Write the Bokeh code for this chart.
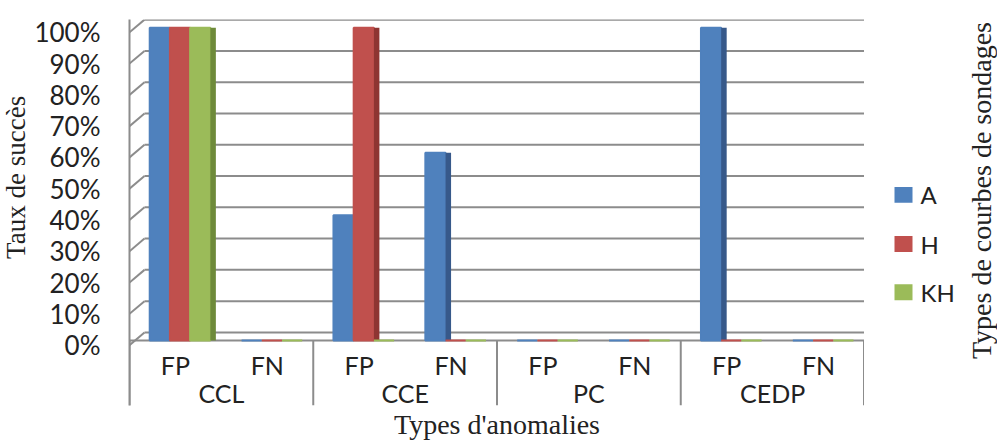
from bokeh.plotting import figure
from bokeh.layouts import row
from bokeh.models import ColumnDataSource, FactorRange, Range1d, FixedTicker, Title, Span
from bokeh.transform import dodge
from bokeh.core.properties import value
from bokeh.embed import file_html
from bokeh.resources import INLINE

groups = ["CCL", "CCE", "PC", "CEDP"]
subs = ["FP", "FN"]
series = ["A", "H", "KH"]
vals_A = [100, 0, 40, 60, 0, 0, 100, 0]
vals_H = [100, 0, 100, 0, 0, 0, 0, 0]
vals_KH = [100, 0, 0, 0, 0, 0, 0, 0]
y_ticks = [0, 10, 20, 30, 40, 50, 60, 70, 80, 90, 100]

colors = ["#4F81BD", "#C0504D", "#9BBB59"]
side_colors = ["#37598A", "#8E3532", "#6E8A3A"]
grey = "#8c8c8c"
txt = "#222222"

TOTAL_H = 439
Y_START, Y_END = -20.8, 102.6
FRONT, BACK, DEPTH = -1.5, 2.56, 0.163   # 3-D wall offsets (perspective)

factors = [(g, s) for g in groups for s in subs]
src = ColumnDataSource(dict(x=factors, sub=[f[1] for f in factors], A=vals_A, H=vals_H, KH=vals_KH))
gsrc = ColumnDataSource(dict(x=[(g, subs[0]) for g in groups], name=groups))
esrc = ColumnDataSource(dict(x=[(groups[-1], subs[-1])]))
first, last = factors[0], factors[-1]
wsrc = ColumnDataSource(dict(xl=[first] * len(y_ticks), xr=[last] * len(y_ticks),
                             yf=[t + FRONT for t in y_ticks], yb=[t + BACK for t in y_ticks]))

# ---------------- main plot ----------------
p = figure(x_range=FactorRange(*factors, range_padding=0, group_padding=0),
           y_range=Range1d(Y_START, Y_END),
           frame_width=735, frame_height=386, output_backend="svg", toolbar_location=None,
           min_border_left=97, min_border_right=0, min_border_top=19, min_border_bottom=34)
p.outline_line_color = None
p.background_fill_color = "white"

# back wall gridlines and left-wall diagonals
p.segment(x0=dodge("xl", -0.5 + DEPTH, range=p.x_range), x1=dodge("xr", 0.5, range=p.x_range),
          y0="yb", y1="yb", source=wsrc, line_color=grey, line_width=2)
p.segment(x0=dodge("xl", -0.5, range=p.x_range), x1=dodge("xl", -0.5 + DEPTH, range=p.x_range),
          y0="yf", y1="yb", source=wsrc, line_color=grey, line_width=2)
p.add_layout(Span(location=0, dimension="width", line_color=grey, line_width=2, level="underlay"))

offsets = [-0.17, 0.05, 0.27]
bw = 0.22
sw = 0.06
for name, off, c, sc in zip(series, offsets, colors, side_colors):
    p.vbar(x=dodge("x", off, range=p.x_range), top=name, width=bw, source=src,
           fill_color=c, line_color=c, line_width=2)
    p.vbar(x=dodge("x", off + bw / 2 + sw / 2, range=p.x_range), top=name, width=sw, source=src,
           fill_color=sc, line_color=None)

# category separators and labels below the floor line
p.segment(x0=dodge("x", -0.5, range=p.x_range), x1=dodge("x", -0.5, range=p.x_range),
          y0=0, y1=Y_START, source=gsrc, line_color=grey, line_width=2)
p.segment(x0=dodge("x", 0.5, range=p.x_range), x1=dodge("x", 0.5, range=p.x_range),
          y0=0, y1=Y_START, source=esrc, line_color=grey, line_width=3)
p.text(x="x", y=-8.0, text="sub", source=src, text_align="center", text_baseline="middle",
       text_font=value("Lato"), text_font_size="25px", text_color=txt)
p.text(x=dodge("x", 0.5, range=p.x_range), y=-16.9, text="name", source=gsrc,
       text_align="center", text_baseline="middle",
       text_font=value("Lato"), text_font_size="25px", text_color=txt)

yax = p.yaxis[0]
yax.ticker = FixedTicker(ticks=[t + FRONT for t in y_ticks])
yax.major_label_overrides = {t + FRONT: f"{t}%" for t in y_ticks}
yax.major_label_text_font = "Lato"
yax.major_label_text_font_size = "26px"
yax.major_label_text_color = txt
yax.major_label_standoff = 23
yax.major_tick_line_color = None
yax.minor_tick_line_color = None
yax.axis_line_color = grey
yax.axis_line_width = 2

p.xaxis.visible = False
p.xgrid.grid_line_color = None
p.ygrid.grid_line_color = None

p.add_layout(Title(text="Types d'anomalies", align="center", text_font="Liberation Serif",
                   text_font_size="28px", text_font_style="normal", text_color=txt,
                   standoff=2), "below")

# ---------------- left title panel ----------------
LW = 31
left = figure(width=LW, height=TOTAL_H, x_range=Range1d(0, LW), y_range=Range1d(TOTAL_H, 0),
              x_axis_type=None, y_axis_type=None, toolbar_location=None, output_backend="svg",
              min_border=0)
left.outline_line_color = None
left.grid.visible = False
left.text(x=[15.5], y=[180], text=["Taux de succès"], angle=1.5708,
          text_align="center", text_baseline="middle",
          text_font=value("Liberation Serif"), text_font_size="27px", text_color=txt)

# ---------------- right legend panel ----------------
RW = 133
right = figure(width=RW, height=TOTAL_H, x_range=Range1d(0, RW), y_range=Range1d(TOTAL_H, 0),
               x_axis_type=None, y_axis_type=None, toolbar_location=None, output_backend="svg",
               min_border=0)
right.outline_line_color = None
right.grid.visible = False
leg_y = [200, 256, 311]
lsrc = ColumnDataSource(dict(y=leg_y, name=series, color=colors))
right.rect(x=39, y="y", width=18, height=18, fill_color="color", line_color=None, source=lsrc)
right.text(x=56, y="y", text="name", source=lsrc, text_align="left", text_baseline="middle",
           text_font=value("Lato"), text_font_size="24px", text_color=txt)
right.text(x=[117], y=[195], text=["Types de courbes de sondages"], angle=1.5708,
           text_align="center", text_baseline="middle",
           text_font=value("Liberation Serif"), text_font_size="28px", text_color=txt)

layout = row(left, p, right, spacing=0)
open("out.html", "w").write(file_html(layout, INLINE))
